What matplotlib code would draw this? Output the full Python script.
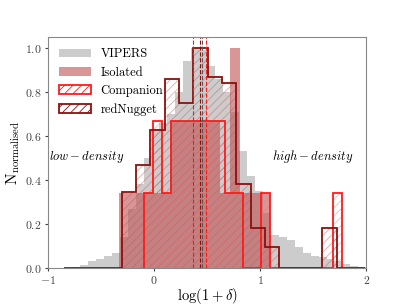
import numpy as np
import matplotlib
matplotlib.use("Agg")
import matplotlib.pyplot as plt

plt.rcParams['font.family'] = 'serif'
plt.rcParams['font.serif'] = ['cmr10', 'DejaVu Serif']
plt.rcParams['mathtext.fontset'] = 'cm'
plt.rcParams['axes.formatter.use_mathtext'] = True
plt.rcParams['hatch.linewidth'] = 0.6

# VIPERS: 40 bins from -1 to 2
vipers_edges = np.linspace(-1, 2, 41)
vipers_vals = [0, 0, 0, 0.005, 0.012, 0.03, 0.042, 0.054, 0.07, 0.14,
               0.27, 0.38, 0.50, 0.63, 0.66, 0.70, 0.80, 0.94, 1.0, 0.99,
               0.92, 0.86, 0.80, 0.71, 0.53, 0.42, 0.35, 0.25, 0.15, 0.14,
               0.127, 0.095, 0.067, 0.057, 0.05, 0.04, 0.03, 0.02, 0.01, 0.005]

# Isolated
iso_edges = np.linspace(-0.33, 1.095, 16)
iso_vals = [0.34, 0.34, 0.34, 0.34, 0.34, 0.67, 0.67, 0.67, 0.67, 0.67,
            0.34, 1.0, 0.34, 0.34, 0.34]

# Companion
comp_edges = np.linspace(-0.10, 1.77, 23)
comp_vals = [0.34, 0.67, 0.34, 0.67, 0.67, 0.67, 0.67, 0.67, 0.67, 0.34,
             0.34, 0, 0, 0.34, 0, 0, 0, 0, 0, 0, 0, 0.34]

# redNugget
rn_edges = np.linspace(-0.845, 1.99, 22)
rn_vals = [0, 0, 0, 0, 0.345, 0.47, 0.627, 0.86, 0.75, 1.0, 0.87, 0.84,
           0.38, 0.18, 0.096, 0, 0, 0, 0.18, 0, 0]

medians = {'VIPERS': 0.45, 'Isolated': 0.37, 'Companion': 0.49, 'redNugget': 0.43}

fig, ax = plt.subplots(figsize=(4.07, 3.05), dpi=100)
fig.subplots_adjust(left=0.118, right=0.9, bottom=0.121, top=0.879)

def centers(e):
    e = np.asarray(e)
    return 0.5 * (e[:-1] + e[1:])

ax.hist(centers(vipers_edges), bins=vipers_edges, weights=vipers_vals,
        histtype='stepfilled', color='#c4c4c4', alpha=0.85, label='VIPERS')
ax.hist(centers(iso_edges), bins=iso_edges, weights=iso_vals,
        histtype='stepfilled', color='#c05050', alpha=0.6, label='Isolated')

# hatch layers (faint) + solid outlines
ax.hist(centers(comp_edges), bins=comp_edges, weights=comp_vals,
        histtype='stepfilled', fill=False, edgecolor=(1, 0.45, 0.45, 0.55),
        hatch='////', linewidth=0)
ax.hist(centers(comp_edges), bins=comp_edges, weights=comp_vals,
        histtype='step', color='#ff1a1a', linewidth=1.3)
ax.hist(centers(rn_edges), bins=rn_edges, weights=rn_vals,
        histtype='stepfilled', fill=False, edgecolor=(0.75, 0.35, 0.35, 0.5),
        hatch='////', linewidth=0)
ax.hist(centers(rn_edges), bins=rn_edges, weights=rn_vals,
        histtype='step', color='#8b1010', linewidth=1.3)

ax.axvline(medians['VIPERS'], color='#555555', ls='--', lw=0.8)
ax.axvline(medians['Isolated'], color='#c03030', ls='--', lw=0.8)
ax.axvline(medians['Companion'], color='#ff1a1a', ls='--', lw=0.8)
ax.axvline(medians['redNugget'], color='#8b1010', ls='--', lw=0.8)

ax.text(-0.99, 0.49, r'$low-density$', fontsize=9)
ax.text(1.11, 0.49, r'$high-density$', fontsize=9)

ax.set_xlim(-1, 2)
ax.set_ylim(0, 1.05)
ax.set_xticks([-1, 0, 1, 2])
ax.set_yticks([0, 0.2, 0.4, 0.6, 0.8, 1.0])
ax.set_xlabel(r'$\log(1+\delta)$', fontsize=10.5, labelpad=0)
ax.set_ylabel(r'$\mathrm{N}_{\mathrm{normalised}}$', fontsize=11, labelpad=2)
ax.tick_params(labelsize=8.5, colors='#444444', length=2.5, pad=2)
for s in ax.spines.values():
    s.set_color('#888888')

from matplotlib.patches import Patch
handles = [
    Patch(facecolor='#c4c4c4', alpha=0.85, label='VIPERS'),
    Patch(facecolor='#c05050', alpha=0.6, label='Isolated'),
    Patch(facecolor='none', edgecolor='#ff1a1a', hatch='////', lw=1.3, label='Companion'),
    Patch(facecolor='none', edgecolor='#8b1010', hatch='////', lw=1.3, label='redNugget'),
]
ax.legend(handles=handles, loc='upper left', frameon=False, fontsize=9, handlelength=2.5)

fig.savefig('out.png', dpi=100)
